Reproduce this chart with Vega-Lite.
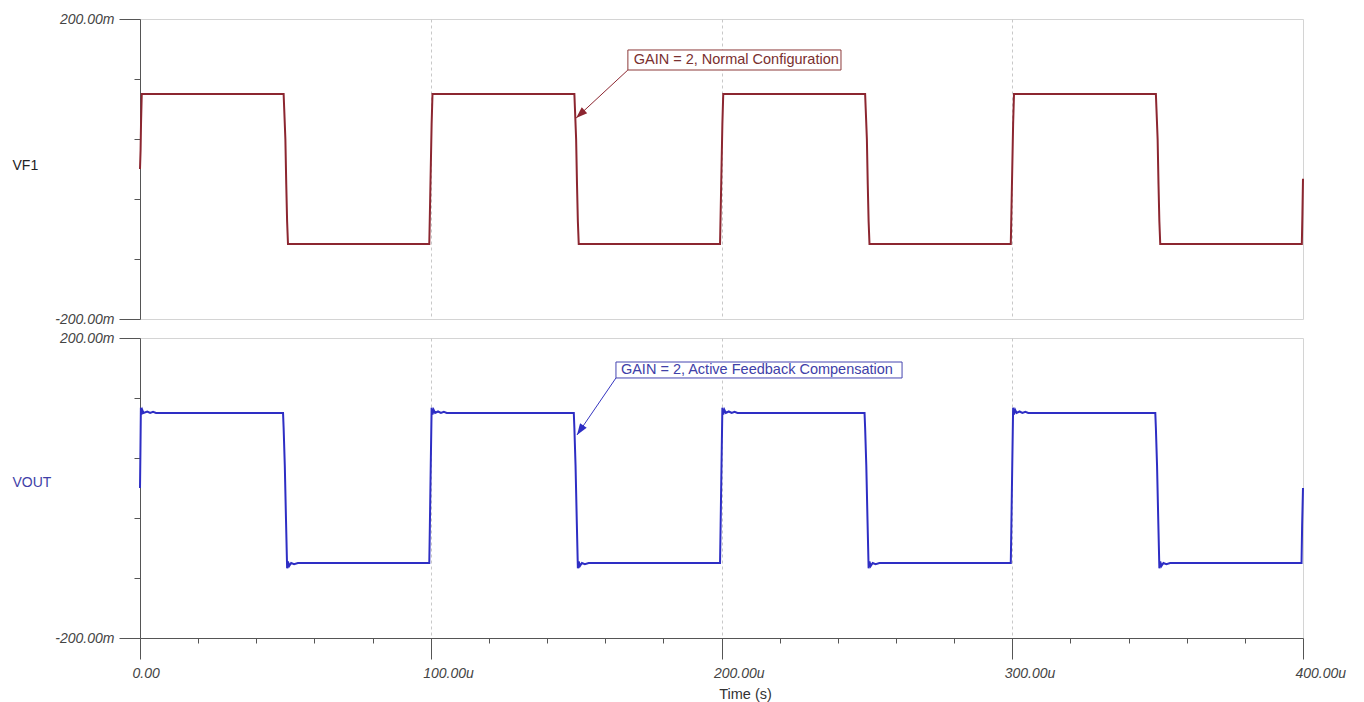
{
  "$schema": "https://vega.github.io/schema/vega-lite/v6.json",
  "background": "white",
  "padding": {"left": 11, "top": 11, "right": 5, "bottom": 2},
  "config": {
    "font": "Liberation Sans",
    "view": {"stroke": "#d4d4d4", "strokeWidth": 1},
    "concat": {"spacing": 3}
  },
  "datasets": {
    "wave": [
      {"s":"VF1","t":0,"v":0},{"s":"VF1","t":0.2,"v":25},{"s":"VF1","t":0.35,"v":60},{"s":"VF1","t":0.6,"v":100},
      {"s":"VF1","t":49.4,"v":100},{"s":"VF1","t":49.6,"v":80},{"s":"VF1","t":50.0,"v":40},{"s":"VF1","t":50.3,"v":-20},{"s":"VF1","t":50.6,"v":-70},{"s":"VF1","t":50.9,"v":-100},
      {"s":"VF1","t":99.5,"v":-100},{"s":"VF1","t":99.7,"v":-60},{"s":"VF1","t":100.0,"v":0},{"s":"VF1","t":100.3,"v":60},{"s":"VF1","t":100.6,"v":100},
      {"s":"VF1","t":149.4,"v":100},{"s":"VF1","t":149.6,"v":80},{"s":"VF1","t":150.0,"v":40},{"s":"VF1","t":150.3,"v":-20},{"s":"VF1","t":150.6,"v":-70},{"s":"VF1","t":150.9,"v":-100},
      {"s":"VF1","t":199.5,"v":-100},{"s":"VF1","t":199.7,"v":-60},{"s":"VF1","t":200.0,"v":0},{"s":"VF1","t":200.3,"v":60},{"s":"VF1","t":200.6,"v":100},
      {"s":"VF1","t":249.4,"v":100},{"s":"VF1","t":249.6,"v":80},{"s":"VF1","t":250.0,"v":40},{"s":"VF1","t":250.3,"v":-20},{"s":"VF1","t":250.6,"v":-70},{"s":"VF1","t":250.9,"v":-100},
      {"s":"VF1","t":299.5,"v":-100},{"s":"VF1","t":299.7,"v":-60},{"s":"VF1","t":300.0,"v":0},{"s":"VF1","t":300.3,"v":60},{"s":"VF1","t":300.6,"v":100},
      {"s":"VF1","t":349.4,"v":100},{"s":"VF1","t":349.6,"v":80},{"s":"VF1","t":350.0,"v":40},{"s":"VF1","t":350.3,"v":-20},{"s":"VF1","t":350.6,"v":-70},{"s":"VF1","t":350.9,"v":-100},
      {"s":"VF1","t":399.6,"v":-100},{"s":"VF1","t":399.8,"v":-60},{"s":"VF1","t":400,"v":-13},

      {"s":"VOUT","t":0,"v":0},{"s":"VOUT","t":0.15,"v":50},{"s":"VOUT","t":0.3,"v":107},{"s":"VOUT","t":0.5,"v":98},{"s":"VOUT","t":0.8,"v":104},{"s":"VOUT","t":1.2,"v":100},{"s":"VOUT","t":2.5,"v":102},{"s":"VOUT","t":3.5,"v":100},{"s":"VOUT","t":4.5,"v":101.5},{"s":"VOUT","t":5.5,"v":100},
      {"s":"VOUT","t":49.2,"v":100},{"s":"VOUT","t":49.4,"v":80},{"s":"VOUT","t":49.8,"v":30},{"s":"VOUT","t":50.2,"v":-40},{"s":"VOUT","t":50.6,"v":-107},{"s":"VOUT","t":50.9,"v":-98},{"s":"VOUT","t":51.3,"v":-104},{"s":"VOUT","t":52,"v":-100},{"s":"VOUT","t":53,"v":-101.5},{"s":"VOUT","t":54.3,"v":-100},
      {"s":"VOUT","t":99.5,"v":-100},{"s":"VOUT","t":99.7,"v":-50},{"s":"VOUT","t":100,"v":30},{"s":"VOUT","t":100.3,"v":107},{"s":"VOUT","t":100.6,"v":98},{"s":"VOUT","t":101,"v":104},{"s":"VOUT","t":101.5,"v":100},{"s":"VOUT","t":102.5,"v":102},{"s":"VOUT","t":103.5,"v":100},{"s":"VOUT","t":104.5,"v":101.5},{"s":"VOUT","t":105.5,"v":100},
      {"s":"VOUT","t":149.2,"v":100},{"s":"VOUT","t":149.4,"v":80},{"s":"VOUT","t":149.8,"v":30},{"s":"VOUT","t":150.2,"v":-40},{"s":"VOUT","t":150.6,"v":-107},{"s":"VOUT","t":150.9,"v":-98},{"s":"VOUT","t":151.3,"v":-104},{"s":"VOUT","t":152,"v":-100},{"s":"VOUT","t":153,"v":-101.5},{"s":"VOUT","t":154.3,"v":-100},
      {"s":"VOUT","t":199.5,"v":-100},{"s":"VOUT","t":199.7,"v":-50},{"s":"VOUT","t":200,"v":30},{"s":"VOUT","t":200.3,"v":107},{"s":"VOUT","t":200.6,"v":98},{"s":"VOUT","t":201,"v":104},{"s":"VOUT","t":201.5,"v":100},{"s":"VOUT","t":202.5,"v":102},{"s":"VOUT","t":203.5,"v":100},{"s":"VOUT","t":204.5,"v":101.5},{"s":"VOUT","t":205.5,"v":100},
      {"s":"VOUT","t":249.2,"v":100},{"s":"VOUT","t":249.4,"v":80},{"s":"VOUT","t":249.8,"v":30},{"s":"VOUT","t":250.2,"v":-40},{"s":"VOUT","t":250.6,"v":-107},{"s":"VOUT","t":250.9,"v":-98},{"s":"VOUT","t":251.3,"v":-104},{"s":"VOUT","t":252,"v":-100},{"s":"VOUT","t":253,"v":-101.5},{"s":"VOUT","t":254.3,"v":-100},
      {"s":"VOUT","t":299.5,"v":-100},{"s":"VOUT","t":299.7,"v":-50},{"s":"VOUT","t":300,"v":30},{"s":"VOUT","t":300.3,"v":107},{"s":"VOUT","t":300.6,"v":98},{"s":"VOUT","t":301,"v":104},{"s":"VOUT","t":301.5,"v":100},{"s":"VOUT","t":302.5,"v":102},{"s":"VOUT","t":303.5,"v":100},{"s":"VOUT","t":304.5,"v":101.5},{"s":"VOUT","t":305.5,"v":100},
      {"s":"VOUT","t":349.2,"v":100},{"s":"VOUT","t":349.4,"v":80},{"s":"VOUT","t":349.8,"v":30},{"s":"VOUT","t":350.2,"v":-40},{"s":"VOUT","t":350.6,"v":-107},{"s":"VOUT","t":350.9,"v":-98},{"s":"VOUT","t":351.3,"v":-104},{"s":"VOUT","t":352,"v":-100},{"s":"VOUT","t":353,"v":-101.5},{"s":"VOUT","t":354.3,"v":-100},
      {"s":"VOUT","t":399.5,"v":-100},{"s":"VOUT","t":399.7,"v":-50},{"s":"VOUT","t":400,"v":0}
    ],
    "note": [
      {"s":"VF1","label":"GAIN = 2, Normal Configuration","t":169.8,"v":145.3,"b1":167.8,"b2":241.1,"c1":158.7,"c2":132,"at":167.8,"av":132,"tipt":150.0,"tipv":68},
      {"s":"VOUT","label":"GAIN = 2, Active Feedback Compensation","t":165.4,"v":157.3,"b1":163.7,"b2":262.1,"c1":168,"c2":146.7,"at":163.7,"av":146.7,"tipt":150.3,"tipv":70.7}
    ]
  },
  "vconcat": [
    {
      "width": 1163,
      "height": 300,
      "layer": [
        {
          "data": {"name": "wave"},
          "transform": [{"filter": "datum.s == 'VF1'"}],
          "mark": {"type": "line", "color": "#8c2630", "strokeWidth": 2},
          "encoding": {
            "x": {"field": "t", "type": "quantitative", "scale": {"domain": [0, 400], "nice": false, "zero": false},
              "axis": {"values": [100, 200, 300], "grid": true, "gridDash": [3, 3], "gridColor": "#c8c8c8", "ticks": false, "labels": false, "domain": false, "title": null}},
            "y": {"field": "v", "type": "quantitative", "scale": {"domain": [-200, 200], "nice": false},
              "axis": {"values": [-200,-160,-120,-80,-40,0,40,80,120,160,200], "grid": false,
                "title": "VF1", "titleAngle": 0, "titleX": -128, "titleY": 146, "titleAlign": "left", "titleBaseline": "middle",
                "titleFontSize": 14, "titleFontWeight": "normal", "titleColor": "#222",
                "labelExpr": "datum.value == 200 ? '200.00m' : datum.value == -200 ? '-200.00m' : ''",
                "labelFontStyle": "italic", "labelFontSize": 14, "labelColor": "#444", "labelPadding": 5, "labelFlush": false, "labelOverlap": false,
                "tickSize": {"condition": [{"test": "abs(datum.value) == 200", "value": 21}, {"test": "datum.value == 0", "value": 11}], "value": 6},
                "domainColor": "#555", "tickColor": "#555"}}
          }
        },
        {
          "data": {"name": "note"},
          "transform": [{"filter": "datum.s == 'VF1'"}],
          "mark": {"type": "rule", "color": "#8c2630", "strokeWidth": 1},
          "encoding": {"x": {"field": "at", "type": "quantitative"}, "y": {"field": "av", "type": "quantitative"}, "x2": {"field": "tipt"}, "y2": {"field": "tipv"}}
        },
        {
          "data": {"name": "note"},
          "transform": [{"filter": "datum.s == 'VF1'"}],
          "mark": {"type": "point", "shape": "M0,0L-0.7,2L0.7,2Z", "size": 130, "filled": true, "opacity": 1, "color": "#8c2630", "angle": 227},
          "encoding": {"x": {"field": "tipt", "type": "quantitative"}, "y": {"field": "tipv", "type": "quantitative"}}
        },
        {
          "data": {"name": "note"},
          "transform": [{"filter": "datum.s == 'VF1'"}],
          "mark": {"type": "rect", "fill": "white", "stroke": "#8c3a3a", "strokeWidth": 1},
          "encoding": {"x": {"field": "b1", "type": "quantitative"}, "x2": {"field": "b2"}, "y": {"field": "c1", "type": "quantitative"}, "y2": {"field": "c2"}}
        },
        {
          "data": {"name": "note"},
          "transform": [{"filter": "datum.s == 'VF1'"}],
          "mark": {"type": "text", "align": "left", "baseline": "middle", "fontSize": 14.5, "color": "#7a3030"},
          "encoding": {"x": {"field": "t", "type": "quantitative"}, "y": {"field": "v", "type": "quantitative"}, "text": {"field": "label"}}
        }
      ]
    },
    {
      "width": 1163,
      "height": 300,
      "layer": [
        {
          "data": {"name": "wave"},
          "transform": [{"filter": "datum.s == 'VOUT'"}],
          "mark": {"type": "line", "color": "#2e2ec4", "strokeWidth": 2},
          "encoding": {
            "x": {"field": "t", "type": "quantitative", "scale": {"domain": [0, 400], "nice": false, "zero": false},
              "axis": {"values": [0,10,20,30,40,50,60,70,80,90,100,110,120,130,140,150,160,170,180,190,200,210,220,230,240,250,260,270,280,290,300,310,320,330,340,350,360,370,380,390,400],
                "grid": true, "gridDash": [3, 3], "gridColor": "#c8c8c8",
                "gridOpacity": {"condition": {"test": "datum.value == 100 || datum.value == 200 || datum.value == 300", "value": 1}, "value": 0},
                "tickSize": {"condition": [{"test": "datum.value % 100 == 0", "value": 21}, {"test": "datum.value % 50 == 0", "value": 10}], "value": 5},
                "labelExpr": "datum.value % 100 == 0 ? (datum.value == 0 ? '0.00' : format(datum.value, '.2f') + 'u') : ''",
                "labelAlign": "left", "labelOffset": -8, "labelBaseline": "top", "labelPadding": 7,
                "labelFontStyle": "italic", "labelFontSize": 14, "labelColor": "#444", "labelFlush": false, "labelOverlap": false,
                "title": "Time (s)", "titleFontSize": 14.5, "titleFontWeight": "normal", "titleColor": "#333",
                "titleX": 605, "titleY": 56, "titleAlign": "center", "titleBaseline": "middle",
                "domainColor": "#555", "tickColor": "#555"}},
            "y": {"field": "v", "type": "quantitative", "scale": {"domain": [-200, 200], "nice": false},
              "axis": {"values": [-200,-160,-120,-80,-40,0,40,80,120,160,200], "grid": false,
                "title": "VOUT", "titleAngle": 0, "titleX": -128, "titleY": 144, "titleAlign": "left", "titleBaseline": "middle",
                "titleFontSize": 14, "titleFontWeight": "normal", "titleColor": "#3f3fa8",
                "labelExpr": "datum.value == 200 ? '200.00m' : datum.value == -200 ? '-200.00m' : ''",
                "labelFontStyle": "italic", "labelFontSize": 14, "labelColor": "#444", "labelPadding": 5, "labelFlush": false, "labelOverlap": false,
                "tickSize": {"condition": [{"test": "abs(datum.value) == 200", "value": 21}, {"test": "datum.value == 0", "value": 11}], "value": 6},
                "domainColor": "#555", "tickColor": "#555"}}
          }
        },
        {
          "data": {"name": "note"},
          "transform": [{"filter": "datum.s == 'VOUT'"}],
          "mark": {"type": "rule", "color": "#3535c0", "strokeWidth": 1},
          "encoding": {"x": {"field": "at", "type": "quantitative"}, "y": {"field": "av", "type": "quantitative"}, "x2": {"field": "tipt"}, "y2": {"field": "tipv"}}
        },
        {
          "data": {"name": "note"},
          "transform": [{"filter": "datum.s == 'VOUT'"}],
          "mark": {"type": "point", "shape": "M0,0L-0.7,2L0.7,2Z", "size": 130, "filled": true, "opacity": 1, "color": "#2e2ec4", "angle": 214},
          "encoding": {"x": {"field": "tipt", "type": "quantitative"}, "y": {"field": "tipv", "type": "quantitative"}}
        },
        {
          "data": {"name": "note"},
          "transform": [{"filter": "datum.s == 'VOUT'"}],
          "mark": {"type": "rect", "fill": "white", "stroke": "#4545b0", "strokeWidth": 1},
          "encoding": {"x": {"field": "b1", "type": "quantitative"}, "x2": {"field": "b2"}, "y": {"field": "c1", "type": "quantitative"}, "y2": {"field": "c2"}}
        },
        {
          "data": {"name": "note"},
          "transform": [{"filter": "datum.s == 'VOUT'"}],
          "mark": {"type": "text", "align": "left", "baseline": "middle", "fontSize": 14.5, "color": "#4040a8"},
          "encoding": {"x": {"field": "t", "type": "quantitative"}, "y": {"field": "v", "type": "quantitative"}, "text": {"field": "label"}}
        }
      ]
    }
  ]
}
